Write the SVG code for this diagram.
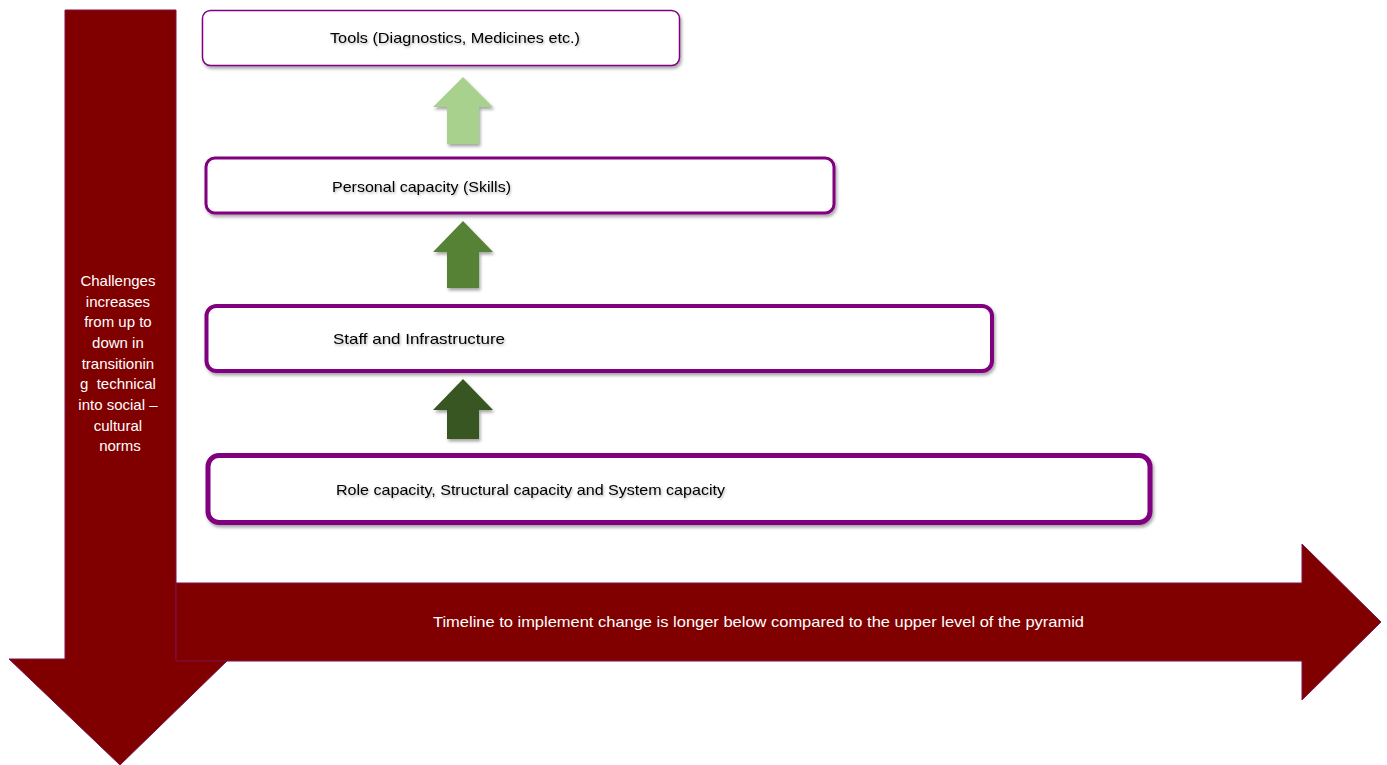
<svg xmlns="http://www.w3.org/2000/svg" width="1387" height="765" viewBox="0 0 1387 765">
<defs>
<filter id="sh" x="-5%" y="-20%" width="110%" height="150%">
<feDropShadow dx="1.5" dy="2.5" stdDeviation="1.5" flood-color="#000" flood-opacity="0.35"/>
</filter>
<filter id="tsh" x="-5%" y="-30%" width="110%" height="160%">
<feDropShadow dx="1" dy="1.5" stdDeviation="0.8" flood-color="#000" flood-opacity="0.3"/>
</filter>
</defs>
<style>
.box{fill:#fff;stroke:#800080;filter:url(#sh)}
.lbl{font-family:"Liberation Sans",Arial,sans-serif;font-size:15px;fill:#000;filter:url(#tsh)}
.wt{font-family:"Liberation Sans",Arial,sans-serif;font-size:15px;fill:#fff}
.big{fill:#800000;stroke:#7a1050;stroke-width:1}
</style>
<rect width="1387" height="765" fill="#fff"/>
<g id="challenges-arrow">
<polygon class="big" points="65,10 176,10 176,659 229,659 120,765 9,659 65,659"/>
<text class="wt" text-anchor="middle" x="120">
<tspan x="120" y="286">Challenges</tspan>
<tspan x="120" y="307">increases</tspan>
<tspan x="120" y="327">from up to</tspan>
<tspan x="120" y="348">down in</tspan>
<tspan x="120" y="369">transitionin</tspan>
<tspan x="120" y="389">g&#160; technical</tspan>
<tspan x="120" y="410">into social –</tspan>
<tspan x="120" y="431">cultural</tspan>
<tspan x="120" y="451">norms</tspan>
</text>
</g>
<g id="timeline-arrow">
<polygon class="big" points="176,583 1302,583 1302,544 1381,622 1302,700 1302,661 176,661"/>
<text class="wt" x="433" y="627" textLength="651" lengthAdjust="spacingAndGlyphs">Timeline to implement change is longer below compared to the upper level of the pyramid</text>
</g>
<g id="tools">
<rect class="box" x="202.5" y="10.5" width="477" height="55" rx="8" stroke-width="1.5"/>
<text class="lbl" x="330" y="43" textLength="250" lengthAdjust="spacingAndGlyphs">Tools (Diagnostics, Medicines etc.)</text>
</g>
<g id="personal">
<rect class="box" x="206" y="158" width="628" height="55" rx="9" stroke-width="3"/>
<text class="lbl" x="332" y="192" textLength="179" lengthAdjust="spacingAndGlyphs">Personal capacity (Skills)</text>
</g>
<g id="staff">
<rect class="box" x="206.5" y="306" width="785.5" height="65" rx="10" stroke-width="4"/>
<text class="lbl" x="333" y="344" textLength="172" lengthAdjust="spacingAndGlyphs">Staff and Infrastructure</text>
</g>
<g id="role">
<rect class="box" x="208" y="455.5" width="942" height="67" rx="11" stroke-width="5"/>
<text class="lbl" x="336" y="495" textLength="389" lengthAdjust="spacingAndGlyphs">Role capacity, Structural capacity and System capacity</text>
</g>
<g id="connectors">
<polygon points="463,77 493,107 479,107 479,144 447,144 447,107 433,107" fill="#A9D18E" filter="url(#sh)"/>
<polygon points="463,221 493,252 479,252 479,288 447,288 447,252 433,252" fill="#548235" filter="url(#sh)"/>
<polygon points="463,379 493,410 479,410 479,439 447,439 447,410 433,410" fill="#375623" filter="url(#sh)"/>
</g>
</svg>
